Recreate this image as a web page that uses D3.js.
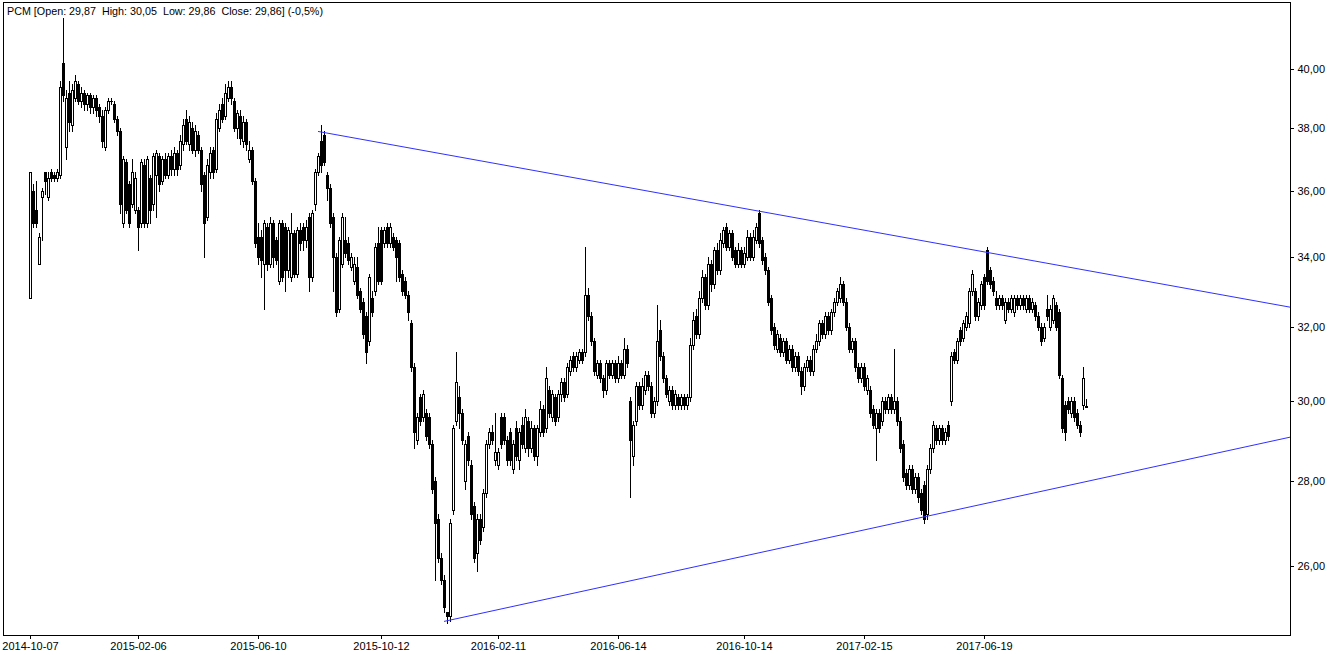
<!DOCTYPE html>
<html><head><meta charset="utf-8">
<script src="https://cdn.jsdelivr.net/npm/d3@7"></script>
<style>
body{margin:0;background:#fff;}
svg{display:block;}
text{font-family:"Liberation Sans",Arial,sans-serif;}
.xlab{font-family:"Liberation Sans Narrow","Arial Narrow","Liberation Sans",sans-serif;font-stretch:condensed;}
</style>
</head><body>
<svg id="chart" width="1337" height="655"></svg>
<script>
const ticker = "PCM";
const lastChangePct = -0.5;
const tickLabels = ["2014-10-07","2015-02-06","2015-06-10","2015-10-12","2016-02-11","2016-06-14","2016-10-14","2017-02-15","2017-06-19"];
const tickBars = [0, 36, 76, 117, 156, 196, 238, 278, 318];
const yTicks = [26, 28, 30, 32, 34, 36, 38, 40];
const trendStartBar = [96, 138];
const trendStartPrice = [37.9, 24.79];
const trendEndBar = [319, 298];
const trendEndPrice = [34.13, 27.14];

const open = [
32.8,36.0,35.4,33.8,35.8,36.6,35.8,36.6,36.5,36.4,
36.5,40.2,37.4,39.2,38.1,39.0,39.5,38.9,39.2,38.8,
39.1,38.7,39.0,38.7,38.4,37.4,38.6,38.9,38.8,38.3,
37.9,35.0,36.9,36.2,35.6,35.4,35.4,35.0,36.8,35.0,
36.4,35.6,36.5,37.1,36.3,37.0,36.5,37.1,36.7,37.2,
36.8,37.5,38.3,37.5,38.0,37.3,37.8,37.3,36.5,35.2,
36.6,37.3,36.7,38.0,38.8,38.4,39.0,39.4,38.9,38.0,
38.4,37.6,38.2,37.0,37.3,36.3,34.6,34.6,33.8,34.9,
33.8,35.0,34.5,33.3,35.0,34.9,33.6,33.4,34.7,33.5,
34.8,34.9,34.5,35.2,33.4,35.6,36.6,37.6,37.8,36.5,
36.1,35.2,34.0,32.5,33.8,34.5,34.4,33.7,33.3,33.7,
33.0,32.7,32.3,31.6,32.8,33.0,34.4,34.8,34.4,34.9,
34.4,34.6,34.5,34.4,33.5,33.3,32.9,32.1,30.9,29.0,
30.1,29.6,29.7,29.6,28.9,28.0,27.1,26.2,25.7,25.0,
24.9,27.3,29.5,30.1,29.7,28.0,29.1,28.4,27.4,26.3,
27.1,26.9,27.7,28.9,29.2,28.5,28.4,29.6,29.6,29.0,
29.2,28.3,29.3,28.5,29.4,28.8,29.5,28.8,29.3,28.6,
29.2,29.8,29.3,30.3,29.6,30.1,29.6,30.2,30.5,30.2,
30.8,31.2,30.9,31.1,31.3,31.3,32.9,32.3,31.6,30.7,
31.0,30.6,30.3,31.0,30.7,31.0,30.6,31.0,30.7,31.4,
30.0,28.6,29.5,30.4,29.9,30.3,30.7,30.4,29.7,30.0,
31.9,31.2,30.6,30.0,30.3,29.9,30.1,29.9,30.1,29.9,
30.1,31.5,32.3,31.8,32.8,33.4,32.6,33.8,33.2,34.2,
33.6,34.4,34.9,34.3,34.7,34.2,33.8,34.2,33.8,34.0,
34.6,34.0,34.5,35.3,34.5,34.0,33.6,32.8,32.0,31.4,
31.7,31.3,31.6,31.1,31.4,30.9,31.2,30.8,30.4,30.9,
31.1,30.8,31.4,31.6,32.1,31.8,32.3,31.9,32.4,32.7,
32.8,33.2,32.7,32.0,31.4,31.6,30.9,30.6,30.9,30.3,
30.3,29.8,29.3,29.7,29.5,30.0,29.8,30.1,29.8,30.0,
29.5,28.9,28.2,27.9,28.3,27.8,28.1,27.7,27.9,27.2,
28.3,28.8,29.3,29.0,29.3,29.0,29.4,30.0,31.3,31.1,
31.9,31.7,32.0,32.1,33.0,33.0,32.3,32.6,33.4,34.2,
33.6,33.3,32.8,32.6,32.8,32.2,32.7,32.5,32.4,32.8,
32.6,32.8,32.5,32.8,32.5,32.6,32.3,32.0,31.7,32.5,
32.0,32.2,32.6,32.4,30.6,29.9,30.0,29.7,30.0,29.7,
29.4,29.9,29.87];

const high = [
36.6,36.2,36.3,34.7,36.1,36.6,36.6,36.7,36.6,36.7,
39.6,41.8,39.3,39.6,39.5,39.8,39.6,39.4,39.3,39.2,
39.2,39.1,39.1,38.8,38.6,38.7,39.0,39.0,38.9,38.4,
38.0,37.1,37.0,36.3,37.0,36.6,35.5,37.0,37.0,37.1,
36.5,37.2,37.3,37.2,37.1,37.2,37.2,37.3,37.4,37.3,
37.8,38.3,38.6,38.4,38.2,38.1,37.9,37.4,36.6,37.0,
37.4,37.4,38.5,38.8,39.0,39.5,39.6,39.6,39.0,38.6,
38.6,38.4,38.3,37.6,37.4,36.4,35.0,34.8,35.1,35.0,
35.2,35.1,34.6,35.1,35.1,35.0,34.9,35.3,34.8,34.9,
35.0,35.0,35.1,35.3,35.4,36.7,37.2,38.1,37.9,36.6,
36.2,35.3,34.1,34.6,35.3,35.2,34.6,34.1,34.0,34.0,
33.1,32.8,32.4,33.5,33.0,34.4,34.9,34.9,34.9,35.0,
35.0,34.7,34.6,34.5,33.6,33.4,33.0,32.2,31.0,29.7,
30.2,30.3,29.8,29.7,29.0,28.1,27.2,26.3,25.8,25.0,
27.1,29.4,31.3,30.4,29.8,29.0,29.2,28.5,27.5,27.2,
27.2,27.8,29.0,29.3,29.4,29.7,28.8,29.7,29.7,29.1,
29.3,29.0,29.5,29.3,29.6,29.8,29.6,29.5,29.4,29.4,
30.0,29.9,30.9,30.4,30.3,30.2,30.3,30.6,30.6,31.0,
31.2,31.3,31.3,31.4,31.4,34.3,33.1,32.4,31.7,31.1,
31.1,30.7,31.1,31.1,31.1,31.1,31.2,31.1,31.7,31.5,
30.1,29.5,30.5,30.5,30.6,30.8,30.8,30.5,30.1,32.6,
32.2,31.3,30.7,30.4,30.4,30.3,30.2,30.2,30.2,30.2,
31.7,32.4,32.5,33.0,33.6,33.5,34.0,33.9,34.3,34.4,
34.7,34.9,35.0,34.8,34.8,34.3,34.4,34.3,34.3,34.8,
34.7,34.8,35.0,35.4,34.6,34.1,33.7,32.9,32.1,31.9,
31.8,31.7,31.7,31.5,31.5,31.3,31.3,30.9,31.0,31.2,
31.2,31.5,31.8,32.2,32.2,32.4,32.4,32.5,32.8,33.1,
33.4,33.3,32.8,32.1,31.7,31.7,31.0,31.0,31.0,30.7,
30.4,29.9,29.8,29.8,30.1,30.1,30.2,30.2,31.4,30.1,
29.6,29.0,28.3,28.4,28.4,28.2,28.2,27.8,28.0,28.4,
28.9,29.5,29.4,29.4,29.4,29.3,29.5,31.3,31.4,31.7,
32.0,32.2,32.4,33.1,33.6,33.1,32.8,33.3,33.5,34.3,
33.7,33.4,33.0,32.9,32.9,32.8,32.8,32.9,32.9,32.9,
32.9,32.9,32.9,32.9,32.8,32.7,32.4,32.1,32.1,32.9,
32.6,32.9,32.7,32.5,30.7,30.0,30.1,30.1,30.1,29.8,
29.5,30.9,30.05];

const low = [
32.8,34.9,34.9,33.8,34.5,35.9,35.7,36.3,36.3,36.3,
36.4,38.9,37.0,37.9,37.9,38.9,38.8,38.7,38.6,38.6,
38.5,38.5,38.4,38.2,37.4,37.3,38.5,38.8,38.2,37.8,
35.3,34.9,35.3,34.9,35.5,35.3,34.2,34.9,34.9,34.9,
35.0,35.4,35.2,36.0,36.2,36.4,36.4,36.5,36.5,36.5,
36.7,37.3,37.5,37.3,37.2,37.1,37.2,36.0,34.0,35.1,
36.4,36.4,36.6,37.9,38.2,38.3,38.9,38.8,37.9,37.7,
37.5,37.4,37.3,36.9,36.2,34.3,33.8,33.4,32.5,33.6,
33.7,33.7,33.8,33.2,33.3,33.0,33.4,33.3,33.4,33.4,
34.2,34.2,34.3,33.0,33.3,35.4,36.5,36.6,36.8,35.7,
34.9,33.0,32.3,32.4,33.7,34.0,33.8,33.6,33.2,32.8,
32.4,31.7,31.0,31.5,32.3,32.9,33.2,33.2,34.3,34.3,
34.3,34.2,33.3,33.3,32.9,32.8,32.2,30.8,28.8,28.9,
29.4,29.5,29.0,28.8,27.7,25.7,26.1,25.6,25.0,24.75,
24.8,27.2,29.4,29.3,28.9,27.8,28.4,27.1,26.1,25.9,
26.5,26.8,27.6,28.8,28.9,28.4,28.3,28.8,28.9,28.4,
28.4,28.2,28.5,28.3,28.8,28.7,28.6,28.7,28.5,28.4,
29.1,29.1,29.2,29.6,29.5,29.4,29.5,30.0,30.0,30.1,
30.7,30.8,30.8,31.0,31.0,31.2,32.2,31.5,30.7,30.6,
30.5,30.1,30.2,30.6,30.6,30.5,30.5,30.6,30.6,30.9,
27.6,28.4,29.4,29.8,29.8,30.2,30.3,29.6,29.6,29.9,
31.1,30.5,30.1,29.9,29.8,29.8,29.8,29.8,29.8,29.8,
30.0,31.4,31.7,31.7,32.7,32.5,32.5,33.0,33.1,33.5,
33.5,34.3,34.2,34.2,33.9,33.7,33.7,33.7,33.7,33.9,
33.9,33.9,34.4,34.3,33.8,33.5,32.6,31.8,31.4,31.3,
31.2,31.2,31.0,31.0,30.8,30.8,30.7,30.2,30.3,30.8,
30.7,30.7,31.3,31.5,31.7,31.7,31.8,31.8,32.3,32.6,
32.7,32.6,31.9,31.3,31.3,30.8,30.5,30.5,30.3,30.2,
29.6,29.3,28.5,29.2,29.4,29.7,29.7,29.7,29.7,29.4,
28.7,28.0,27.8,27.8,27.7,27.7,27.5,27.2,27.0,27.1,
28.2,28.7,28.9,28.9,28.9,28.9,29.0,29.9,31.0,31.0,
31.5,31.6,31.9,32.0,32.9,32.2,32.2,32.5,32.5,33.2,
33.1,32.9,32.5,32.5,32.5,32.1,32.4,32.4,32.3,32.5,
32.5,32.5,32.4,32.4,32.4,32.2,31.9,31.5,31.6,32.2,
31.9,32.1,31.9,30.6,29.2,29.0,29.7,29.6,29.5,29.3,
29.1,29.8,29.86];

const close = [
36.6,35.0,35.0,34.6,36.0,36.3,36.4,36.4,36.4,36.6,
39.4,39.1,39.0,38.2,39.3,39.6,38.9,39.2,38.8,39.1,
38.7,39.0,38.6,38.4,37.6,38.6,38.9,38.9,38.3,37.9,
35.6,37.0,35.4,35.0,36.6,36.4,34.9,36.9,35.0,37.0,
35.4,37.1,37.2,36.2,37.0,36.5,37.1,36.7,37.2,36.7,
37.6,38.1,37.6,38.2,37.3,37.9,37.3,36.2,35.0,36.8,
37.2,36.6,38.3,38.6,38.3,39.2,39.4,39.0,38.0,38.5,
37.7,38.2,37.5,37.3,36.3,34.4,34.0,33.9,35.0,33.8,
35.0,34.0,33.9,35.0,33.4,33.6,34.8,34.7,33.5,34.8,
34.4,34.5,34.9,33.4,35.3,36.6,37.1,36.8,36.9,36.1,
35.0,34.0,32.4,34.5,35.2,34.1,33.9,34.0,33.8,32.9,
32.5,31.8,31.3,33.4,32.4,34.3,33.3,33.3,34.8,34.4,
34.9,34.3,34.0,33.4,33.0,32.9,32.4,30.9,29.2,29.6,
29.5,30.2,29.1,28.9,27.8,27.0,26.2,25.7,25.1,24.9,
27.0,29.3,30.5,29.7,29.0,28.9,28.5,27.2,26.2,27.1,
26.6,27.7,28.9,29.2,29.0,28.7,28.7,28.9,29.0,28.5,
28.5,28.9,28.6,29.2,28.9,29.6,28.8,29.3,28.6,29.3,
29.8,29.2,30.6,29.7,30.2,29.5,30.2,30.5,30.1,30.9,
31.1,30.9,31.2,31.3,31.1,32.9,32.3,31.6,30.8,31.0,
30.6,30.3,31.0,30.7,31.0,30.6,31.0,30.7,31.4,31.0,
29.0,29.4,30.4,29.9,30.4,30.7,30.4,29.7,30.0,31.6,
31.2,30.6,30.2,30.3,29.9,30.2,29.9,30.1,29.9,30.1,
31.5,32.2,31.8,32.8,33.4,32.6,33.8,33.2,34.2,33.6,
34.5,34.8,34.3,34.7,34.0,33.8,34.2,33.8,34.1,34.6,
34.0,34.6,34.9,34.4,33.9,33.6,32.7,31.9,31.5,31.8,
31.3,31.6,31.1,31.4,30.9,31.2,30.8,30.4,30.9,31.1,
30.8,31.4,31.6,32.1,31.8,32.3,31.9,32.4,32.7,33.0,
33.2,32.7,32.0,31.4,31.6,30.9,30.6,30.9,30.4,30.6,
29.7,29.4,29.7,29.3,30.0,29.8,30.1,29.8,30.0,29.5,
28.8,28.1,27.9,28.3,27.8,28.1,27.6,27.3,27.1,28.3,
28.8,29.4,29.0,29.3,29.0,29.2,29.1,31.2,31.1,31.6,
31.6,32.1,32.3,33.0,33.5,32.3,32.7,33.2,32.6,33.3,
33.2,33.0,32.6,32.8,32.6,32.7,32.5,32.8,32.8,32.6,
32.8,32.6,32.8,32.5,32.7,32.3,32.0,31.6,32.0,32.3,
32.5,32.8,32.0,30.7,29.3,29.2,29.8,30.0,29.6,29.4,
29.2,30.6,29.86];

// ---------- layout ----------
const plot = {left: 3, right: 1290, top: 2.5, bottom: 635};
const svg = d3.select("#chart");
const n = Math.min(open.length, high.length, low.length, close.length);
const bars = d3.range(n).map(i => ({i, o: open[i], h: high[i], l: low[i], c: close[i]}));

const x = d3.scaleLinear().domain([-9, 420]).range([plot.left, plot.right]);
const y = d3.scaleLog().domain([24.5, 42.38]).range([plot.bottom, plot.top]);
const fmt = v => v.toFixed(2).replace(".", ",");

// frame
svg.append("rect")
  .attr("x", plot.left + 0.5).attr("y", 2.5)
  .attr("width", plot.right - plot.left).attr("height", plot.bottom - 2)
  .attr("fill", "#fff").attr("stroke", "#000").attr("stroke-width", 1)
  .attr("shape-rendering", "crispEdges");

// candles
const g = svg.append("g").attr("shape-rendering", "crispEdges");
const cg = g.selectAll("g.c").data(bars).join("g").attr("class", "c");
cg.append("line")
  .attr("x1", d => Math.round(x(d.i)) + 0.5).attr("x2", d => Math.round(x(d.i)) + 0.5)
  .attr("y1", d => Math.round(y(Math.max(d.h, d.o, d.c))))
  .attr("y2", d => Math.round(y(Math.min(d.l, d.o, d.c))) + 1)
  .attr("stroke", "#000").attr("stroke-width", 1);
cg.each(function(d) {
  const cx = Math.round(x(d.i));
  const top = Math.round(y(Math.max(d.o, d.c)));
  const bot = Math.round(y(Math.min(d.o, d.c)));
  const sel = d3.select(this);
  if (bot - top < 1) {
    sel.append("line").attr("x1", cx - 1).attr("x2", cx + 2)
      .attr("y1", top + 0.5).attr("y2", top + 0.5)
      .attr("stroke", "#000").attr("stroke-width", 1);
  } else {
    sel.append("rect").attr("x", cx - 0.5).attr("y", top + 0.5)
      .attr("width", 2).attr("height", bot - top)
      .attr("fill", d.c >= d.o ? "#fff" : "#000")
      .attr("stroke", "#000").attr("stroke-width", 1);
  }
});

// trend lines, extended to the right edge of the plot
const xMax = x.domain()[1];
trendStartBar.forEach((b, k) => {
  const x1 = x(b), y1 = y(trendStartPrice[k]);
  const x2 = x(trendEndBar[k]), y2 = y(trendEndPrice[k]);
  const slope = (y2 - y1) / (x2 - x1);
  const xe = x(xMax);
  svg.append("line")
    .attr("x1", x1).attr("y1", y1)
    .attr("x2", xe).attr("y2", y1 + slope * (xe - x1))
    .attr("stroke", "#3030ff").attr("stroke-width", 1);
});

// y axis (right)
const yAxis = d3.axisRight(y).tickValues(yTicks).tickFormat(fmt).tickSize(3).tickPadding(4);
const ya = svg.append("g").attr("transform", `translate(${plot.right + 0.5},0)`).call(yAxis);
ya.select(".domain").remove();
ya.selectAll("line").attr("stroke", "#000").attr("shape-rendering", "crispEdges");
ya.selectAll("text").attr("font-size", 11).attr("fill", "#000")
  .attr("font-family", '"Liberation Sans",Arial,sans-serif');

// x axis (bottom)
const xAxis = d3.axisBottom(x).tickValues(tickBars).tickFormat((d, i) => tickLabels[i]).tickSize(3).tickPadding(4);
const xa = svg.append("g").attr("transform", `translate(0,${plot.bottom + 0.5})`).call(xAxis);
xa.select(".domain").remove();
xa.selectAll("line").attr("stroke", "#000").attr("shape-rendering", "crispEdges");
xa.selectAll("text").attr("class", "xlab").attr("font-size", 11).attr("fill", "#000")
  .attr("font-family", '"Liberation Sans Narrow","Arial Narrow","Liberation Sans",sans-serif');

// title
const last = bars[n - 1];
svg.append("text")
  .attr("x", 7).attr("y", 15)
  .attr("font-size", 11).attr("fill", "#000")
  .attr("textLength", 316).attr("lengthAdjust", "spacingAndGlyphs")
  .style("white-space", "pre")
  .text(`${ticker} [Open: ${fmt(last.o)}  High: ${fmt(last.h)}  Low: ${fmt(last.l)}  Close: ${fmt(last.c)}] (${String(lastChangePct).replace(".", ",")}%)`);
</script>
</body></html>
